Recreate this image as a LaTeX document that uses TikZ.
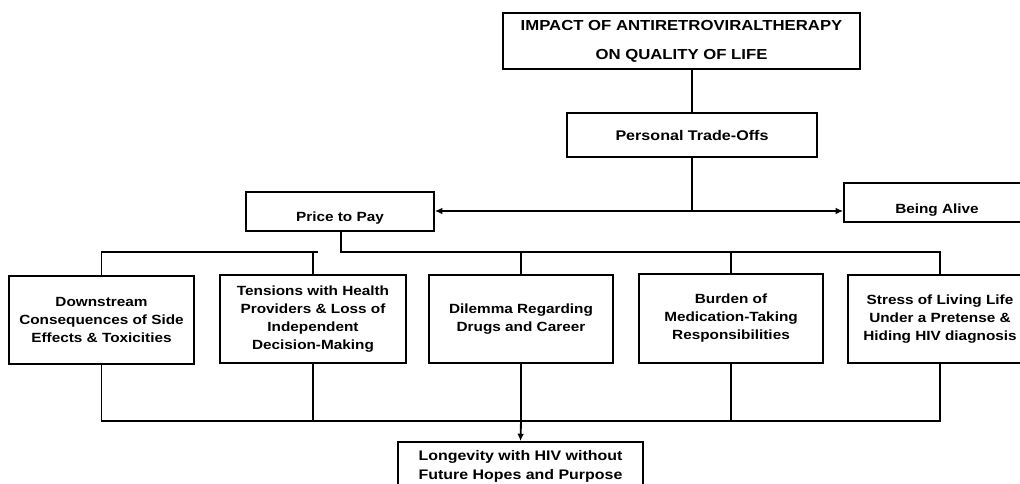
\documentclass[tikz,border=0pt]{standalone}
\usepackage{fontspec}
\setmainfont[FakeStretch=1.15]{Liberation Sans}
\usetikzlibrary{arrows.meta}
\begin{document}
\begin{tikzpicture}[x=0.75pt,y=-0.75pt,
  box/.style={draw=black,line width=1.4pt,fill=white,align=center,inner sep=0pt,
    font=\bfseries\fontsize{10}{13.5}\selectfont},
  conn/.style={line width=1.4pt,draw=black},
  tip/.style={-{Latex[length=5.5pt,width=5pt]}}]
\path[use as bounding box] (0,0) rectangle (1020,484);
\clip (0,0) rectangle (1020,484);

\node[box,minimum width=357*0.75pt,minimum height=56*0.75pt,
  font=\bfseries\fontsize{10.9}{21.75}\selectfont] (title) at (681.5,41)
  {IMPACT OF ANTIRETROVIRALTHERAPY\\ON QUALITY OF LIFE};
\node[box,minimum width=250*0.75pt,minimum height=44*0.75pt,
  font=\bfseries\fontsize{10.5}{14}\selectfont] (trade) at (692,135) {Personal Trade-Offs};
\node[box,minimum width=188*0.75pt,minimum height=39*0.75pt] (price) at (340,211.5)
  {\raisebox{-7.5pt}[0pt][0pt]{Price to Pay}};
\node[box,minimum width=186*0.75pt,minimum height=39*0.75pt] (alive) at (937,202.5)
  {\raisebox{-8pt}[0pt][0pt]{Being Alive}};

\node[box,minimum width=185*0.75pt,minimum height=88*0.75pt] (down) at (101.5,320)
  {Downstream\\Consequences of Side\\Effects \& Toxicities};
\node[box,minimum width=186*0.75pt,minimum height=88*0.75pt] (tens) at (313,319)
  {Tensions with Health\\Providers \& Loss of\\Independent\\Decision-Making};
\node[box,minimum width=184*0.75pt,minimum height=88*0.75pt] (dilem) at (521,319)
  {Dilemma Regarding\\Drugs and Career};
\node[box,minimum width=184*0.75pt,minimum height=89*0.75pt] (burden) at (731,318.5)
  {Burden of\\Medication-Taking\\Responsibilities};
\node[box,minimum width=184*0.75pt,minimum height=88*0.75pt] (stress) at (940,319)
  {Stress of Living Life\\Under a Pretense \&\\Hiding HIV diagnosis};
\node[box,minimum width=245*0.75pt,minimum height=48*0.75pt,
  font=\bfseries\fontsize{10.4}{14.25}\selectfont] (longev) at (520.5,466)
  {Longevity with HIV without\\Future Hopes and Purpose};

% top connectors
\draw[conn] (trade.north) -- (trade.north |- title.south);
\coordinate (J) at (trade.south |- 0,211);
\draw[conn] (trade.south) -- (J);
\draw[conn,tip] (J) -- (J -| price.east);
\draw[conn,tip] (J) -- (J -| alive.west);

% price to pay bus (right part)
\coordinate (pb) at (341,252);
\draw[conn] (pb |- price.south) -- (pb) -- (pb -| stress.north) -- (stress.north);
\draw[conn] (dilem.north |- pb) -- (dilem.north);
\draw[conn] (burden.north |- pb) -- (burden.north);

% left bus
\coordinate (lb) at (318,252);
\draw[conn] (lb) -- (lb -| down.north) -- (down.north);
\draw[conn] (tens.north |- lb) -- (tens.north);

% bottom bus
\coordinate (bb) at (0,421);
\draw[conn] (down.south) -- (down.south |- bb) -- (stress.south |- bb) -- (stress.south);
\draw[conn] (tens.south) -- (tens.south |- bb);
\draw[conn] (burden.south) -- (burden.south |- bb);
\draw[conn] (dilem.south) -- (dilem.south |- bb);
\draw[conn,tip] (dilem.south |- bb) -- (longev.north);
\end{tikzpicture}
\end{document}
